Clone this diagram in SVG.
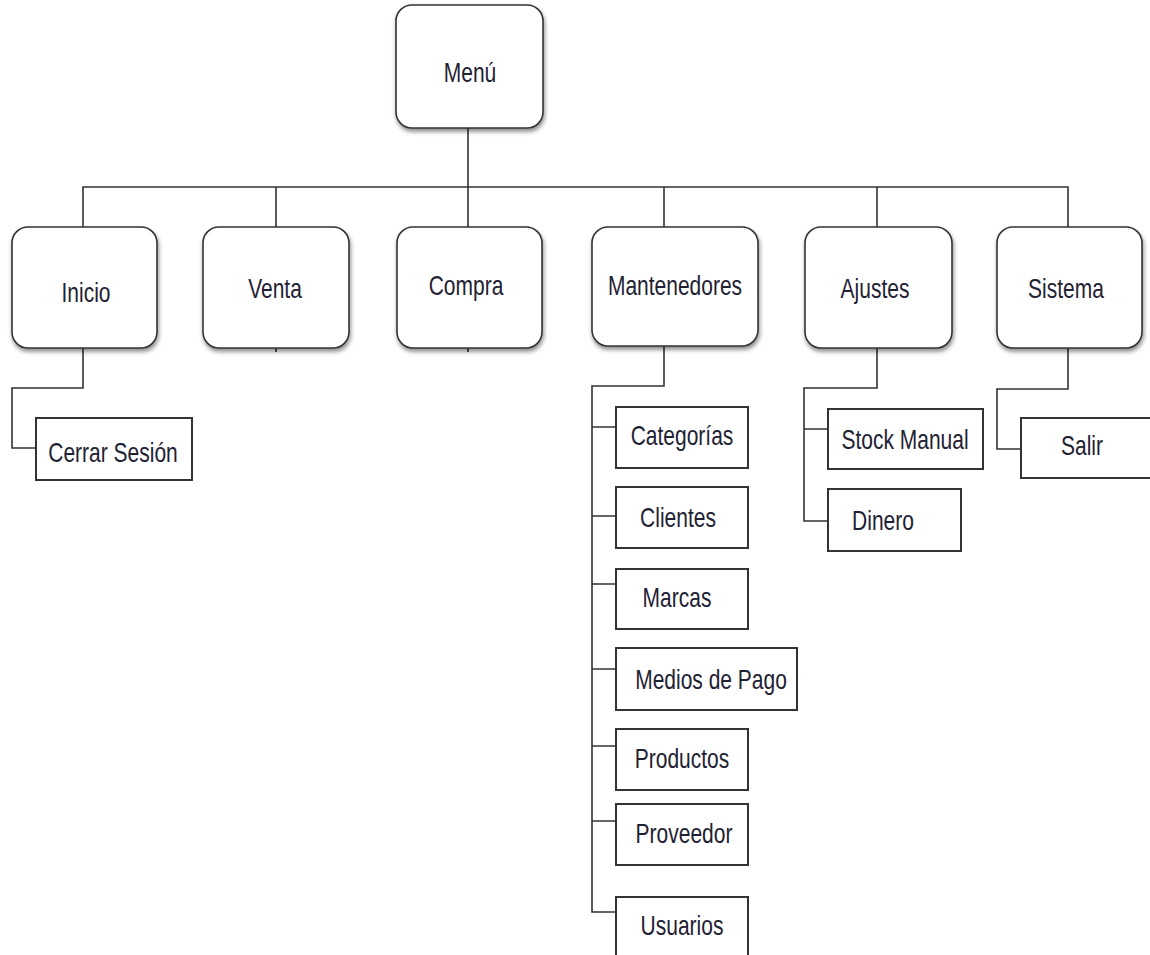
<svg xmlns="http://www.w3.org/2000/svg" width="1150" height="955" viewBox="0 0 1150 955">
<defs>
<filter id="sh" x="-10%" y="-10%" width="130%" height="130%">
<feDropShadow dx="1" dy="3" stdDeviation="2" flood-color="#000" flood-opacity="0.45"/>
</filter>
</defs>
<style>
.rbox{fill:#fff;stroke:#333;stroke-width:1.6;filter:url(#sh)}
.box{fill:#fff;stroke:#333;stroke-width:2}
.ln{fill:none;stroke:#333;stroke-width:1.6}
text{font-family:"Liberation Sans",Arial,sans-serif;font-size:21px;fill:#1f2233;text-anchor:middle}
</style>
<rect width="1150" height="955" fill="#fff"/>
<g id="connectors">
<path class="ln" d="M468 128V187"/>
<path class="ln" d="M83 227V187H1068V227"/>
<path class="ln" d="M276 187V227M468 187V227M664 187V227M877 187V227"/>
<path class="ln" d="M276 348V352M468 348V352"/>
<path class="ln" d="M83 348V388H12V448H36"/>
<path class="ln" d="M664 346V386H592V912H616"/>
<path class="ln" d="M592 427H616M592 516H616M592 584H616M592 669H616M592 746H616M592 821H616"/>
<path class="ln" d="M877 348V388H804V521H828M804 429H828"/>
<path class="ln" d="M1068 348V389H997V449H1021"/>
</g>
<g id="menu"><rect class="rbox" x="396" y="5" width="147" height="123" rx="16"/><text transform="translate(470,82) scale(1,1.35)">Menú</text></g>
<g id="inicio"><rect class="rbox" x="12" y="227" width="145" height="121" rx="16"/><text transform="translate(86,302) scale(1,1.35)">Inicio</text></g>
<g id="venta"><rect class="rbox" x="203" y="227" width="146" height="121" rx="16"/><text transform="translate(275,298) scale(1,1.35)">Venta</text></g>
<g id="compra"><rect class="rbox" x="397" y="227" width="145" height="121" rx="16"/><text transform="translate(466,295) scale(1,1.35)">Compra</text></g>
<g id="mantenedores"><rect class="rbox" x="592" y="227" width="166" height="119" rx="16"/><text transform="translate(675,295) scale(1,1.35)">Mantenedores</text></g>
<g id="ajustes"><rect class="rbox" x="805" y="227" width="147" height="121" rx="16"/><text transform="translate(875,298) scale(1,1.35)">Ajustes</text></g>
<g id="sistema"><rect class="rbox" x="997" y="227" width="145" height="121" rx="16"/><text transform="translate(1066,298) scale(1,1.35)">Sistema</text></g>
<g id="cerrar-sesion"><rect class="box" x="36" y="418" width="156" height="62"/><text transform="translate(113,462) scale(1,1.35)">Cerrar Sesión</text></g>
<g id="categorias"><rect class="box" x="616" y="407" width="132" height="61"/><text transform="translate(682,445) scale(1,1.35)">Categorías</text></g>
<g id="clientes"><rect class="box" x="616" y="487" width="132" height="61"/><text transform="translate(678,527) scale(1,1.35)">Clientes</text></g>
<g id="marcas"><rect class="box" x="616" y="569" width="132" height="60"/><text transform="translate(677,607) scale(1,1.35)">Marcas</text></g>
<g id="medios-de-pago"><rect class="box" x="616" y="648" width="181" height="62"/><text transform="translate(711,689) scale(1,1.35)">Medios de Pago</text></g>
<g id="productos"><rect class="box" x="616" y="729" width="132" height="61"/><text transform="translate(682,768) scale(1,1.35)">Productos</text></g>
<g id="proveedor"><rect class="box" x="616" y="804" width="132" height="61"/><text transform="translate(684,843) scale(1,1.35)">Proveedor</text></g>
<g id="usuarios"><rect class="box" x="616" y="897" width="132" height="70"/><text transform="translate(682,935) scale(1,1.35)">Usuarios</text></g>
<g id="stock-manual"><rect class="box" x="828" y="409" width="155" height="60"/><text transform="translate(905,449) scale(1,1.35)">Stock Manual</text></g>
<g id="dinero"><rect class="box" x="828" y="489" width="133" height="62"/><text transform="translate(883,530) scale(1,1.35)">Dinero</text></g>
<g id="salir"><rect class="box" x="1021" y="418" width="140" height="60"/><text transform="translate(1082,455) scale(1,1.35)">Salir</text></g>
</svg>
